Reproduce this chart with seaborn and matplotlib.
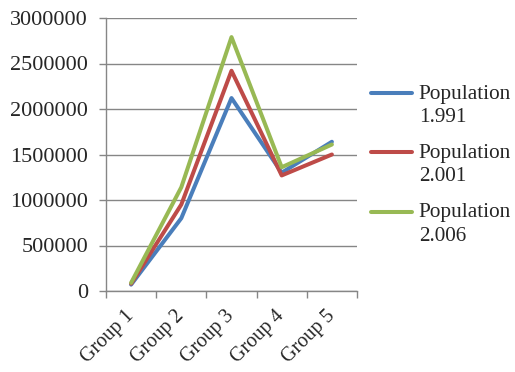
import matplotlib
matplotlib.use("Agg")
import matplotlib.pyplot as plt
import seaborn as sns
import pandas as pd
import numpy as np
from matplotlib.ticker import FixedLocator

groups = ["Group 1", "Group 2", "Group 3", "Group 4", "Group 5"]
series_names = ["Population\n1.991", "Population\n2.001", "Population\n2.006"]
pop_1991 = [70000, 800000, 2120000, 1300000, 1640000]
pop_2001 = [80000, 950000, 2420000, 1270000, 1500000]
pop_2006 = [90000, 1140000, 2790000, 1360000, 1610000]
y_ticks = [0, 500000, 1000000, 1500000, 2000000, 2500000, 3000000]

colors = ["#4A7EBB", "#BE4B48", "#98B954"]

rows = []
for name, vals in zip(series_names, [pop_1991, pop_2001, pop_2006]):
    for i, (g, v) in enumerate(zip(groups, vals)):
        rows.append({"pos": i, "group": g, "series": name, "value": v})
df = pd.DataFrame(rows)

sns.set_theme(style="white")
plt.rcParams["font.family"] = ["Liberation Serif", "DejaVu Serif"]
plt.rcParams["font.size"] = 16

fig = plt.figure(figsize=(5.15, 3.72), dpi=100)
ax = fig.add_axes([106 / 515, 1 - 291 / 372, (357 - 106) / 515, (291 - 18) / 372])

sns.lineplot(data=df, x="pos", y="value", hue="series", palette=colors,
             linewidth=2.9, ax=ax, legend=True, sort=False)

ax.set_xlim(-0.5, 4.5)
ax.set_ylim(0, 3000000)
ax.set_yticks(y_ticks)
ax.set_yticklabels([str(v) for v in y_ticks], fontsize=16)
ax.set_xticks(range(len(groups)))
ax.set_xticklabels(groups, rotation=45, ha="right", va="center",
                   rotation_mode="anchor", fontsize=14.5)
ax.xaxis.set_minor_locator(FixedLocator([-0.5 + i for i in range(6)]))
ax.tick_params(axis="x", which="major", length=0, pad=16)
ax.tick_params(axis="x", which="minor", length=5, width=1, color="#868686", direction="out", bottom=True)
ax.tick_params(axis="y", length=5, width=1, color="#868686", direction="out", left=True, pad=8)
ax.grid(axis="y", color="#868686", linewidth=1)
ax.set_axisbelow(True)
for s in ["top", "right"]:
    ax.spines[s].set_visible(False)
for s in ["left", "bottom"]:
    ax.spines[s].set_color("#868686")
    ax.spines[s].set_linewidth(1)
ax.set_xlabel("")
ax.set_ylabel("")

handles, labels = ax.get_legend_handles_labels()
leg = ax.legend(handles, labels, loc="upper left", bbox_to_anchor=(371 / 515, 1 - 85 / 372),
                bbox_transform=fig.transFigure, frameon=False, fontsize=15.3,
                handlelength=1.95, handletextpad=0.3, labelspacing=0.8, borderpad=0,
                borderaxespad=0)
for t in leg.get_texts():
    t.set_linespacing(1.3)
# keep each legend swatch level with the first line of its label
for h in leg.legend_handles:
    h.set_ydata(np.asarray(h.get_ydata()) + 9.0)

fig.savefig("out.png", dpi=100)
